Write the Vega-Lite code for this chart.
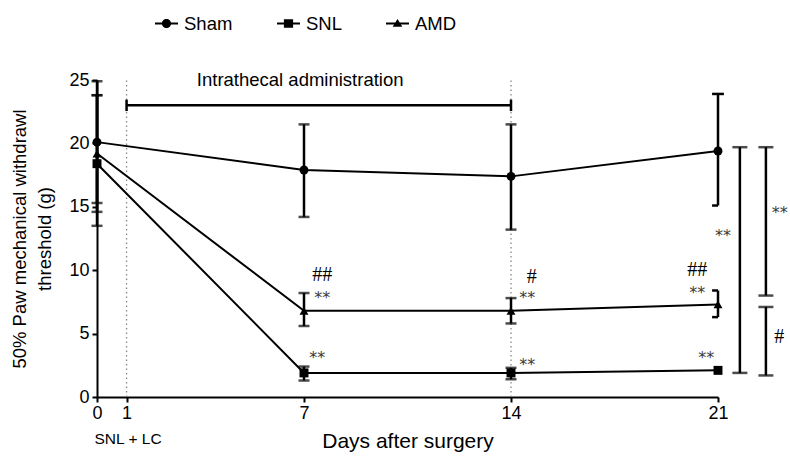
{
  "$schema": "https://vega.github.io/schema/vega-lite/v6.json",
  "width": 621,
  "height": 317,
  "autosize": "none",
  "padding": {"left": 97, "top": 80, "right": 72, "bottom": 59},
  "background": "white",
  "config": {
    "view": {"stroke": null},
    "font": "Liberation Sans",
    "text": {"font": "Liberation Sans"}
  },
  "resolve": {"scale": {"shape": "independent"}, "legend": {"shape": "independent"}},
  "datasets": {
    "series": [
      {"group": "Sham", "x": 0, "y": 20.1},
      {"group": "Sham", "x": 7, "y": 17.9},
      {"group": "Sham", "x": 14, "y": 17.4},
      {"group": "Sham", "x": 21, "y": 19.4},
      {"group": "SNL", "x": 0, "y": 18.4},
      {"group": "SNL", "x": 7, "y": 1.9},
      {"group": "SNL", "x": 14, "y": 1.9},
      {"group": "SNL", "x": 21, "y": 2.1},
      {"group": "AMD", "x": 0, "y": 19.2},
      {"group": "AMD", "x": 7, "y": 6.8},
      {"group": "AMD", "x": 14, "y": 6.8},
      {"group": "AMD", "x": 21, "y": 7.3}
    ],
    "err": [
      {"x": 0, "y": 15.3, "y2": 24.9},
      {"x": 0, "y": 13.5, "y2": 23.8},
      {"x": 0, "y": 14.6, "y2": 23.8},
      {"x": 7, "y": 14.2, "y2": 21.5},
      {"x": 14, "y": 13.2, "y2": 21.5},
      {"x": 7, "y": 5.6, "y2": 8.2},
      {"x": 14, "y": 5.8, "y2": 7.8},
      {"x": 7, "y": 1.3, "y2": 2.4},
      {"x": 14, "y": 1.4, "y2": 2.3}
    ],
    "errstems": [
      {"x": 21, "y": 15.1, "y2": 23.9},
      {"x": 21, "y": 6.3, "y2": 8.4}
    ],
    "halfcaps": [
      {"x": 20.8, "x2": 21.2, "y": 23.9},
      {"x": 20.8, "x2": 21, "y": 15.1},
      {"x": 20.8, "x2": 21, "y": 8.4},
      {"x": 20.8, "x2": 21, "y": 6.3}
    ],
    "brackets": [
      {"x": 21.74, "y": 1.9, "y2": 19.7},
      {"x": 22.62, "y": 8.0, "y2": 19.7},
      {"x": 22.62, "y": 1.7, "y2": 7.1}
    ],
    "dotted": [
      {"x": 1, "y": 0, "y2": 25},
      {"x": 14, "y": 0, "y2": 25}
    ],
    "span": [
      {"x": 1, "x2": 14, "y": 23}
    ],
    "spancaps": [
      {"x": 1, "y": 22.55, "y2": 23.45},
      {"x": 14, "y": 22.55, "y2": 23.45}
    ],
    "stars": [
      {"x": 7.62, "y": 7.8, "label": "**"},
      {"x": 14.55, "y": 7.8, "label": "**"},
      {"x": 20.3, "y": 8.2, "label": "**"},
      {"x": 7.45, "y": 3.1, "label": "**"},
      {"x": 14.55, "y": 2.5, "label": "**"},
      {"x": 20.6, "y": 3.1, "label": "**"},
      {"x": 21.17, "y": 12.7, "label": "**"}
    ],
    "hashes": [
      {"x": 7.62, "y": 9.6, "label": "##"},
      {"x": 14.7, "y": 9.5, "label": "#"},
      {"x": 20.3, "y": 10.0, "label": "##"}
    ],
    "rightstars": [
      {"x": 22.82, "y": 14.5, "label": "**"}
    ],
    "righthash": [
      {"x": 22.9, "y": 4.7, "label": "#"}
    ],
    "notes": [
      {"x": 6.87, "y": 25.0, "label": "Intrathecal administration", "size": 18.5},
      {"x": 1.05, "y": -3.35, "label": "SNL + LC", "size": 15.5}
    ]
  },
  "encoding": {
    "x": {
      "field": "x",
      "type": "quantitative",
      "scale": {"domain": [0, 21], "nice": false, "zero": false},
      "axis": {
        "values": [0, 1, 7, 14, 21],
        "title": "Days after surgery",
        "titleFontSize": 21,
        "titleFontWeight": "normal",
        "titleColor": "black",
        "titlePadding": 8,
        "labelFontSize": 18,
        "labelColor": "black",
        "labelPadding": 2,
        "labelFlush": false,
        "domainColor": "black",
        "domainWidth": 2,
        "tickColor": "black",
        "tickWidth": 2,
        "tickSize": 5,
        "grid": false
      }
    },
    "y": {
      "field": "y",
      "type": "quantitative",
      "scale": {"domain": [0, 25], "nice": false, "zero": false},
      "axis": {
        "values": [0, 5, 10, 15, 20, 25],
        "title": ["50% Paw mechanical withdrawl", "threshold (g)"],
        "titleFontSize": 18.5,
        "titleFontWeight": "normal",
        "titleColor": "black",
        "titleLineHeight": 25,
        "titlePadding": 14,
        "labelFontSize": 18,
        "labelColor": "black",
        "labelPadding": 3,
        "labelFlush": false,
        "domainColor": "black",
        "domainWidth": 2,
        "tickColor": "black",
        "tickWidth": 2,
        "tickSize": 5,
        "grid": false
      }
    }
  },
  "layer": [
    {
      "data": {"name": "dotted"},
      "mark": {"type": "rule", "color": "#888888", "strokeWidth": 1.3, "strokeDash": [1.5, 3]},
      "encoding": {"y2": {"field": "y2"}}
    },
    {
      "data": {"name": "span"},
      "mark": {"type": "rule", "color": "black", "strokeWidth": 2.5},
      "encoding": {"x2": {"field": "x2"}}
    },
    {
      "data": {"name": "spancaps"},
      "mark": {"type": "rule", "color": "black", "strokeWidth": 2.5},
      "encoding": {"y2": {"field": "y2"}}
    },
    {
      "data": {"name": "series"},
      "mark": {"type": "line", "color": "black", "strokeWidth": 2},
      "encoding": {"detail": {"field": "group"}, "order": {"field": "x"}}
    },
    {
      "data": {"name": "err"},
      "mark": {"type": "errorbar", "ticks": true, "size": 11, "thickness": 2.5, "color": "black"},
      "encoding": {"y2": {"field": "y2"}}
    },
    {
      "data": {"name": "errstems"},
      "mark": {"type": "rule", "color": "black", "strokeWidth": 2.5},
      "encoding": {"y2": {"field": "y2"}}
    },
    {
      "data": {"name": "halfcaps"},
      "mark": {"type": "rule", "color": "black", "strokeWidth": 2.5},
      "encoding": {"x2": {"field": "x2"}}
    },
    {
      "data": {"name": "brackets"},
      "mark": {"type": "errorbar", "ticks": true, "size": 15, "thickness": 2.5, "color": "black"},
      "encoding": {"y2": {"field": "y2"}}
    },
    {
      "data": {"name": "series"},
      "mark": {"type": "point", "filled": true, "opacity": 1, "size": 80, "color": "black"},
      "encoding": {
        "shape": {
          "field": "group",
          "type": "nominal",
          "scale": {"domain": ["Sham", "SNL", "AMD"], "range": ["circle", "square", "triangle-up"]},
          "legend": null
        }
      }
    },
    {
      "data": {"name": "series"},
      "mark": {"type": "point", "filled": true, "opacity": 0, "size": 529, "color": "black"},
      "encoding": {
        "shape": {
          "field": "group",
          "type": "nominal",
          "scale": {
            "domain": ["Sham", "SNL", "AMD"],
            "range": [
              "M-1,-0.08H1V0.08H-1ZM0.4,0A0.4,0.4,0,1,1,-0.4,0A0.4,0.4,0,1,1,0.4,0Z",
              "M-1,-0.08H1V0.08H-1ZM-0.4,-0.36H0.4V0.36H-0.4Z",
              "M-1,-0.08H1V0.08H-1ZM0,-0.4L0.42,0.28H-0.42Z"
            ]
          },
          "legend": {
            "title": null,
            "orient": "none",
            "direction": "horizontal",
            "legendX": 58,
            "legendY": -68,
            "labelFontSize": 18.5,
            "labelColor": "black",
            "labelOffset": 6,
            "columnPadding": 44,
            "symbolSize": 529,
            "symbolFillColor": "black",
            "symbolOpacity": 1,
            "symbolStrokeWidth": 0,
            "encode": {
              "symbols": {
                "update": {
                  "size": {"value": 529},
                  "fill": {"value": "black"},
                  "opacity": {"value": 1},
                  "fillOpacity": {"value": 1}
                }
              }
            }
          }
        }
      }
    },
    {
      "data": {"name": "stars"},
      "mark": {"type": "text", "font": "DejaVu Sans", "fontSize": 16, "color": "#3a3a3a", "baseline": "middle", "align": "center"},
      "encoding": {"text": {"field": "label"}}
    },
    {
      "data": {"name": "rightstars"},
      "mark": {"type": "text", "font": "DejaVu Sans", "fontSize": 16, "color": "#3a3a3a", "baseline": "middle", "align": "left"},
      "encoding": {"text": {"field": "label"}}
    },
    {
      "data": {"name": "hashes"},
      "mark": {"type": "text", "font": "Liberation Serif", "fontSize": 20, "color": "black", "baseline": "middle", "align": "center"},
      "encoding": {"text": {"field": "label"}}
    },
    {
      "data": {"name": "righthash"},
      "mark": {"type": "text", "font": "Liberation Serif", "fontSize": 20, "color": "black", "baseline": "middle", "align": "left"},
      "encoding": {"text": {"field": "label"}}
    },
    {
      "data": {"name": "notes"},
      "mark": {"type": "text", "color": "black", "baseline": "middle", "align": "center"},
      "encoding": {"text": {"field": "label"}, "size": {"field": "size", "type": "quantitative", "scale": null}}
    }
  ]
}
